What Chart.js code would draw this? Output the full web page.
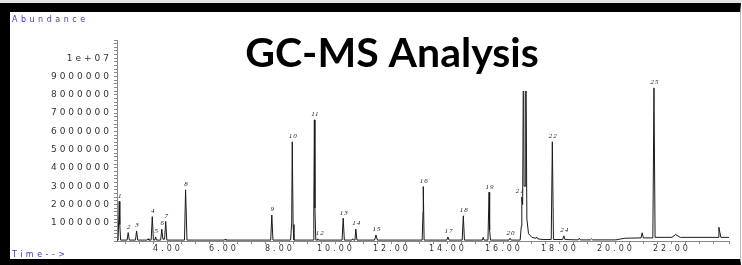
<!DOCTYPE html>
<html>
<head>
<meta charset="utf-8">
<script src="https://cdn.jsdelivr.net/npm/chart.js@4.4.0/dist/chart.umd.min.js"></script>
<style>
  html, body { margin: 0; padding: 0; background: #fff; }
  #strip { position: absolute; left: 0; top: 0; width: 742px; height: 3px; background: #e4e4e4; }
  #frame {
    position: absolute; left: 0; top: 3px; width: 741px; height: 262px; box-sizing: border-box;
    border-top: 9px solid #000; border-left: 10px solid #000; border-bottom: 6px solid #000;
    border-right: 1px solid #bbb; background: #fff;
  }
  #wrap { position: absolute; left: 0; top: 0; width: 742px; height: 265px; }
</style>
</head>
<body>
<div id="strip"></div>
<div id="frame"></div>
<div id="wrap"><canvas id="chart" width="742" height="265"></canvas></div>
<script>
// retention time (min) and abundance (x 1e6) of every vertex of the trace
const retentionTime = [
  2.18, 2.22, 2.26, 2.28, 2.31, 2.54, 2.58, 2.62, 2.84, 2.88, 2.92, 3.26, 3.29, 3.32,
  3.40, 3.44, 3.48, 3.53, 3.56, 3.59, 3.74, 3.78, 3.82, 3.88, 3.92, 3.96, 4.59, 4.63, 4.68,
  6.02, 6.04, 6.07, 7.67, 7.71, 7.75, 8.38, 8.42, 8.44, 8.47, 8.50,
  9.19, 9.21, 9.23, 9.25, 9.28, 9.33, 9.35, 9.38, 10.22, 10.26, 10.30,
  10.57, 10.60, 10.63, 10.68, 10.71, 10.75, 11.38, 11.43, 11.48,
  13.08, 13.11, 13.12, 13.15, 13.96, 14.00, 14.04, 14.51, 14.55, 14.59,
  15.23, 15.26, 15.29, 15.43, 15.47, 15.49, 15.52, 16.18, 16.22, 16.26,
  16.58, 16.62, 16.64, 16.67, 16.70, 16.72, 16.76, 16.78, 16.82, 16.88, 17.00, 17.14, 17.17, 17.20, 17.40,
  17.69, 17.73, 17.77, 18.10, 18.14, 18.18, 18.65, 18.69, 18.73, 19.09, 19.13, 19.17,
  20.00, 20.30, 20.90, 20.94, 20.98, 21.32, 21.36, 21.40, 22.00, 22.13, 22.30,
  23.65, 23.68, 23.71, 23.75, 24.04
];
const abundance = [
  0.05, 0.05, 2.17, 0.9, 0.05, 0.05, 0.46, 0.05, 0.05, 0.55, 0.05, 0.05, 0.12, 0.05,
  0.05, 1.33, 0.05, 0.05, 0.22, 0.05, 0.05, 0.65, 0.1, 0.1, 1.07, 0.05, 0.05, 2.8, 0.05,
  0.05, 0.1, 0.05, 0.05, 1.42, 0.05, 0.05, 1.0, 5.43, 0.9, 0.05,
  0.05, 1.8, 6.63, 1.8, 0.05, 0.05, 0.12, 0.05, 0.05, 1.25, 0.05,
  0.05, 0.12, 0.05, 0.05, 0.65, 0.05, 0.05, 0.33, 0.05,
  0.05, 1.6, 2.98, 0.05, 0.05, 0.22, 0.05, 0.05, 1.38, 0.05,
  0.05, 0.2, 0.05, 0.05, 2.67, 0.6, 0.05, 0.05, 0.15, 0.05,
  0.05, 0.8, 2.4, 2.0, 11.5, 3.0, 3.0, 11.5, 1.2, 0.4, 0.2, 0.15, 0.22, 0.12, 0.08,
  0.08, 5.43, 0.08, 0.08, 0.28, 0.08, 0.06, 0.15, 0.06, 0.06, 0.12, 0.06,
  0.06, 0.15, 0.17, 0.45, 0.17, 0.17, 8.38, 0.2, 0.2, 0.35, 0.2,
  0.2, 0.75, 0.5, 0.2, 0.2
];

// numbered peaks: label, retention time, apex abundance (x 1e6)
const peakLabels = ["1", "2", "3", "4", "5", "6", "7", "8", "9", "10", "11", "12", "13",
  "14", "15", "16", "17", "18", "19", "20", "21", "22", "24", "25"];
const peakTimes = [2.26, 2.58, 2.88, 3.44, 3.56, 3.78, 3.92, 4.63, 7.71, 8.44, 9.23, 9.40, 10.26,
  10.71, 11.43, 13.12, 14.0, 14.55, 15.47, 16.22, 16.55, 17.73, 18.14, 21.36];
const peakApex = [2.17, 0.46, 0.55, 1.33, 0.22, 0.65, 1.07, 2.8, 1.42, 5.43, 6.63, 0.12, 1.25,
  0.65, 0.33, 2.98, 0.22, 1.38, 2.67, 0.15, 2.4, 5.43, 0.28, 8.38];

const timeTicks = [4, 6, 8, 10, 12, 14, 16, 18, 20, 22];

const blue = "#3a3ac8";

const spacingPlugin = {
  id: "spacing",
  beforeUpdate(chart) { chart.ctx.letterSpacing = "3px"; },
  beforeDraw(chart) { chart.ctx.letterSpacing = "3px"; },
};

const decorPlugin = {
  id: "decor",
  afterDatasetsDraw(chart) {
    const { ctx, scales } = chart;
    const x = scales.x;
    const y = scales.y;
    ctx.save();
    // peak numbers
    ctx.letterSpacing = "1px";
    ctx.fillStyle = "#222";
    ctx.font = "italic 7px 'Liberation Serif'";
    ctx.textAlign = "center";
    ctx.textBaseline = "bottom";
    peakLabels.forEach((lab, i) => {
      const px = x.getPixelForValue(peakTimes[i]);
      const py = y.getPixelForValue(peakApex[i]);
      ctx.fillText(lab, px + 1, py - 2);
    });
    // title box covering the top of the chart
    ctx.fillStyle = "#fff";
    ctx.fillRect(228, 14, 330, 77);
    ctx.letterSpacing = "0px";
    ctx.fillStyle = "#000";
    ctx.font = "bold 41px Lato";
    ctx.textAlign = "center";
    ctx.textBaseline = "alphabetic";
    ctx.fillText("GC-MS Analysis", 392, 67);
    // axis captions
    ctx.letterSpacing = "3.5px";
    ctx.fillStyle = blue;
    ctx.font = "8px 'DejaVu Sans'";
    ctx.textAlign = "left";
    ctx.textBaseline = "middle";
    ctx.fillText("Abundance", 12, 20);
    ctx.fillText("Time-->", 12, 255);
    ctx.restore();
  },
};

new Chart(document.getElementById("chart"), {
  type: "line",
  data: {
    datasets: [{
      data: retentionTime.map((t, i) => ({ x: t, y: abundance[i] })),
      borderColor: "#1a1a1a",
      borderWidth: 1,
      pointRadius: 0,
      tension: 0,
      fill: false,
    }],
  },
  options: {
    responsive: false,
    animation: false,
    layout: { padding: { top: 40, right: 13, left: 0, bottom: 0 } },
    plugins: { legend: { display: false }, tooltip: { enabled: false } },
    scales: {
      x: {
        type: "linear",
        min: 2.18,
        max: 24.04,
        afterFit(scale) { scale.height = 24; },
        afterBuildTicks(scale) {
          scale.ticks = [];
          for (let v = 2.5; v < 24; v += 0.5) scale.ticks.push({ value: v });
          scale.ticks.push({ value: 24.04 });
        },
        border: { display: true, color: "#888", width: 1 },
        grid: { drawOnChartArea: false, tickLength: 3, color: "#888" },
        ticks: {
          autoSkip: false,
          maxRotation: 0,
          padding: 0,
          color: "#333",
          font: { family: "DejaVu Sans", size: 8 },
          callback(v) { return timeTicks.includes(v) ? v.toFixed(2) : ""; },
        },
      },
      y: {
        min: 0,
        max: 11,
        afterFit(scale) { scale.width = 117; },
        afterBuildTicks(scale) {
          scale.ticks = [];
          for (let k = 0; k <= 55; k++) scale.ticks.push({ value: k / 5 });
        },
        border: { display: true, color: "#888", width: 1 },
        grid: { drawOnChartArea: false, tickLength: 3, color: "#888" },
        ticks: {
          autoSkip: false,
          padding: 2,
          color: "#333",
          font: { family: "DejaVu Sans", size: 9 },
          callback(v) {
            const r = Math.round(v);
            if (Math.abs(v - r) > 1e-6 || r === 0 || r > 10) return "";
            return r === 10 ? "1e+07" : String(r * 1000000);
          },
        },
      },
    },
  },
  plugins: [spacingPlugin, decorPlugin],
});
</script>
</body>
</html>
